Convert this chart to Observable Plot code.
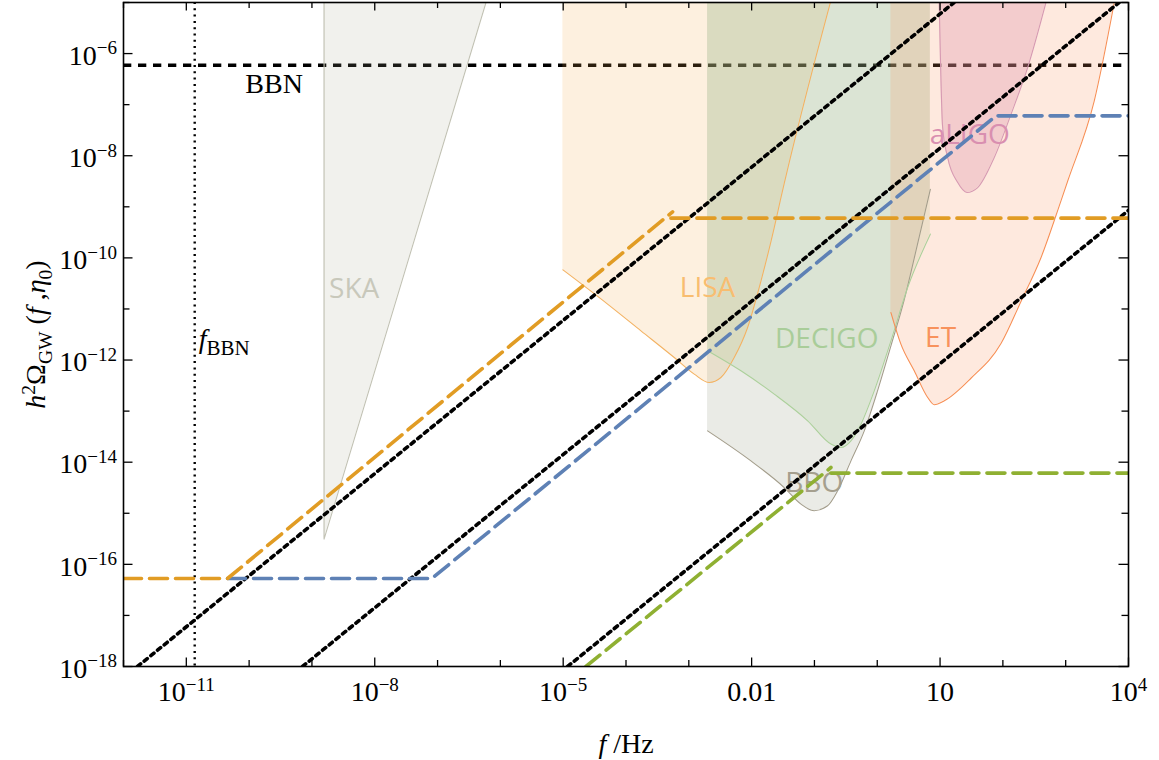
<!DOCTYPE html>
<html>
<head>
<meta charset="utf-8">
<script src="https://cdn.jsdelivr.net/npm/d3@7"></script>
<script src="https://cdn.jsdelivr.net/npm/@observablehq/plot@0.6"></script>
<style>
  body { margin: 0; background: #fff; }
  #chart svg { display: block; }
</style>
</head>
<body>
<div id="chart"></div>
<script>
// ---------------- data ----------------
// axes
const xDomain = [1e-12, 1e4];
const yDomain = [1e-18, 1e-5];
const yTop = 1e-5;
const xDecades = [1e-12,1e-11,1e-10,1e-9,1e-8,1e-7,1e-6,1e-5,1e-4,1e-3,1e-2,1e-1,1,10,100,1e3,1e4];
const xLabeled = [1e-11, 1e-8, 1e-5, 1e-2, 10, 1e4];
const xTickLabels = ["10^−11", "10^−8", "10^−5", "0.01", "10", "10^4"];
const yDecades = [1e-18,1e-17,1e-16,1e-15,1e-14,1e-13,1e-12,1e-11,1e-10,1e-9,1e-8,1e-7,1e-6,1e-5];
const yLabeled = [1e-18, 1e-16, 1e-14, 1e-12, 1e-10, 1e-8, 1e-6];
const yTickLabels = ["10^−18", "10^−16", "10^−14", "10^−12", "10^−10", "10^−8", "10^−6"];

// reference lines
const bbnLevel = 5.9e-7;      // BBN bound (horizontal dashed)
const fBBN = 1.36e-11;        // f_BBN (vertical dotted)

// black dotted diagonal lines (endpoints)
const dotA_F = [1.67e-12, 16.7];   const dotA_V = [1e-18, 1e-5];
const dotB_F = [7.08e-10, 7.08e3]; const dotB_V = [1e-18, 1e-5];
const dotC_F = [1.175e-5, 1e4];    const dotC_V = [1e-18, 8.51e-10];

// coloured dashed spectra
const orangeF = [1e-12, 4.53e-11, 5.52e-4];     const orangeV = [5.28e-17, 5.28e-17, 7.98e-10];
const orangeFlatF = [5.19e-4, 1e4];             const orangeFlatV = [6.0e-10, 6.0e-10];
const blueF = [4.53e-11, 8.11e-8, 77.6, 1e4];   const blueV = [5.28e-17, 5.28e-17, 6.04e-8, 6.04e-8];
const greenF = [2.30e-5, 0.183];                const greenV = [1e-18, 7.87e-15];
const greenFlatF = [0.183, 1e4];                const greenFlatV = [6.11e-15, 6.11e-15];

// detector sensitivity curves (region above each curve is shaded)
const skaF = [1.56e-9, 5.9e-7];
const skaV = [3.12e-16, 1e-5];
const lisaF = [9.89e-6, 5.09e-5, 1.73e-4, 5.86e-4, 1.22e-3, 2.11e-3, 3.24e-3, 5.28e-3, 8.63e-3, 1.41e-2, 2.29e-2, 2.85e-2, 0.179];
const lisaV = [5.83e-11, 1.245e-11, 3.73e-12, 1.12e-12, 5.30e-13, 3.63e-13, 4.55e-13, 1.12e-12, 4.34e-12, 3.56e-11, 3.93e-10, 1.31e-9, 1e-5];
const bboF = [1.99e-3, 9.75e-3, 3.30e-2, 6.10e-2, 0.0993, 0.162, 0.234, 0.381, 0.621, 1.01, 1.65, 2.66, 4.13, 7.0];
const bboV = [4.11e-14, 1.06e-14, 3.19e-15, 1.51e-15, 1.12e-15, 1.40e-15, 2.75e-15, 1.06e-14, 4.11e-14, 2.49e-13, 1.90e-12, 1.44e-11, 1.37e-10, 2.2e-9];
const decigoF = [1.99e-3, 6.76e-3, 2.29e-2, 7.80e-2, 0.183, 0.264, 0.381, 0.550, 0.895, 1.65, 3.05, 7.0];
const decigoV = [1.52e-12, 6.15e-13, 2.15e-13, 6.46e-14, 2.26e-14, 1.94e-14, 2.62e-14, 5.56e-14, 2.49e-13, 2.38e-12, 2.63e-11, 2.92e-10];
const etF = [1.65, 2.38, 3.88, 6.35, 8.09, 11.7, 31.0, 93.3, 194, 405, 841, 1.08e3, 2.85e3, 5.94e3];
const etV = [8.51e-12, 2.05e-12, 6.15e-13, 1.85e-13, 1.33e-13, 1.59e-13, 4.40e-13, 2.10e-12, 1.40e-11, 1.02e-10, 1.31e-9, 3.23e-9, 1.19e-7, 1e-5];
const aligoF = [9.70, 11.0, 13.2, 19.1, 26.8, 39.7, 72.9, 135, 248, 485];
const aligoV = [1e-5, 3.56e-8, 9.23e-9, 2.99e-9, 1.91e-9, 2.38e-9, 9.23e-9, 6.52e-8, 5.33e-7, 1e-5];

// detector labels
const detNames  = ["SKA", "LISA", "DECIGO", "BBO", "ET", "aLIGO"];
const detLabelF = [4.70e-9, 1.99e-3, 0.157, 0.0993, 10.2, 29.7];
const detLabelV = [2.50e-11, 2.59e-11, 2.60e-12, 3.86e-15, 2.66e-12, 2.60e-8];
const detLabelColors = ["#c8c8bb", "#f8bd70", "#a9cd99", "#a59f8e", "#f8925c", "#d98fb0"];

// other text
const bbnLabel = {text: "BBN", f: 2.50e-10, v: 2.58e-7};
const fbbnLabel = {text: "fBBN", f: 1.58e-11, v: 2.6e-12};
const yTitle = "h2ΩGW (f ,η0)";
const xTitle = "f /Hz";

// ---------------- layout ----------------
const W = 1159, H = 760;
const mL = 123, mR = 31, mT = 2, mB = 94;
const plotW = W - mL - mR;
const plotH = H - mT - mB;

const rows = (F, V) => F.map((f, i) => ({f, v: V[i]}));
const xMinor = xDecades.filter(d => !xLabeled.includes(d));
const yMinor = yDecades.filter(d => !yLabeled.includes(d));
const xLabelOf = new Map(xLabeled.map((v, i) => [v, xTickLabels[i]]));
const yLabelOf = new Map(yLabeled.map((v, i) => [v, yTickLabels[i]]));

const regions = [
  {F: skaF, V: skaV, fill: "#a5a58c", op: 0.16, stroke: "#c2c2b4", edge: true},
  {F: lisaF, V: lisaV, fill: "#f6ad50", op: 0.18, stroke: "#f3b262"},
  {F: bboF, V: bboV, fill: "#8e9378", op: 0.19, stroke: "#a39d8b"},
  {F: decigoF, V: decigoV, fill: "#a9cc96", op: 0.22, stroke: "#acd09b"},
  {F: etF, V: etV, fill: "#f8915a", op: 0.2, stroke: "#f78f55"},
  {F: aligoF, V: aligoV, fill: "#d98ca6", op: 0.3, stroke: "#d69ab2"}
];

const regionMarks = [];
for (const r of regions) {
  regionMarks.push(Plot.areaY(rows(r.F, r.V), {
    x: "f", y1: "v", y2: () => yTop, fill: r.fill, fillOpacity: r.op,
    curve: "monotone-x", clip: true
  }));
}
for (const r of regions) {
  const F = r.edge ? [r.F[0], ...r.F] : r.F;
  const V = r.edge ? [yTop, ...r.V] : r.V;
  regionMarks.push(Plot.line(rows(F, V), {
    x: "f", y: "v", stroke: r.stroke, strokeWidth: 1.1,
    curve: r.edge ? "linear" : "monotone-x", clip: true
  }));
}

const dotted = {stroke: "black", strokeWidth: 3.6, strokeDasharray: "4,4.6", clip: true};
const dashed = (c) => ({x: "f", y: "v", stroke: c, strokeWidth: 3.6, strokeDasharray: "18,8", clip: true});

const chart = Plot.plot({
  width: W, height: H,
  marginLeft: mL, marginRight: mR, marginTop: mT, marginBottom: mB,
  style: {background: "white", fontFamily: "'Liberation Serif', 'Times New Roman', serif", fontSize: "28px", overflow: "visible"},
  x: {type: "log", domain: xDomain},
  y: {type: "log", domain: yDomain},
  marks: [
    Plot.ruleY([bbnLevel], {y: d => d, stroke: "black", strokeWidth: 3.6, strokeDasharray: "8.3,6.7", clip: true}),
    ...regionMarks,
    Plot.text(detNames, {
      x: (d, i) => detLabelF[i], y: (d, i) => detLabelV[i], text: d => d,
      fill: (d, i) => detLabelColors[i], fontFamily: "'Open Sans', sans-serif", fontSize: 28,
      lineAnchor: "middle", clip: true
    }),
    Plot.ruleX([fBBN], {x: d => d, stroke: "black", strokeWidth: 2.4, strokeDasharray: "2,4.3"}),
    Plot.line(rows(dotA_F, dotA_V), {x: "f", y: "v", ...dotted}),
    Plot.line(rows(dotB_F, dotB_V), {x: "f", y: "v", ...dotted}),
    Plot.line(rows(dotC_F, dotC_V), {x: "f", y: "v", ...dotted}),
    Plot.line(rows(blueF, blueV), dashed("#5e81b5")),
    Plot.line(rows(orangeF, orangeV), dashed("#e19c24")),
    Plot.line(rows(orangeFlatF, orangeFlatV), dashed("#e19c24")),
    Plot.line(rows(greenF, greenV), dashed("#8fb032")),
    Plot.line(rows(greenFlatF, greenFlatV), dashed("#8fb032")),
    Plot.text([bbnLabel], {x: "f", y: "v", text: "text", fill: "black", fontSize: 28, lineAnchor: "middle"}),
    Plot.text([fbbnLabel], {x: "f", y: "v", text: "text", fill: "black", fontSize: 28, lineAnchor: "middle", textAnchor: "start"}),
    // inward ticks on all four sides
    Plot.tickX(xLabeled, {x: d => d, insetTop: plotH - 8.5, stroke: "black", strokeWidth: 1.3}),
    Plot.tickX(xMinor, {x: d => d, insetTop: plotH - 6, stroke: "black", strokeWidth: 1.3}),
    Plot.tickX(xLabeled, {x: d => d, insetBottom: plotH - 8.5, stroke: "black", strokeWidth: 1.3}),
    Plot.tickX(xMinor, {x: d => d, insetBottom: plotH - 6, stroke: "black", strokeWidth: 1.3}),
    Plot.tickY(yLabeled, {y: d => d, insetRight: plotW - 9.5, stroke: "black", strokeWidth: 1.3}),
    Plot.tickY(yMinor, {y: d => d, insetRight: plotW - 6.5, stroke: "black", strokeWidth: 1.3}),
    Plot.tickY(yLabeled, {y: d => d, insetLeft: plotW - 9.5, stroke: "black", strokeWidth: 1.3}),
    Plot.tickY(yMinor, {y: d => d, insetLeft: plotW - 6.5, stroke: "black", strokeWidth: 1.3}),
    Plot.axisX({ticks: xLabeled, tickSize: 0, tickPadding: 15, tickFormat: d => xLabelOf.get(d), label: null, fontSize: 28}),
    Plot.axisY({ticks: yLabeled, tickSize: 0, tickPadding: 6.5, dy: 2.3, tickFormat: d => yLabelOf.get(d), label: null, fontSize: 28}),
    Plot.text([yTitle], {frameAnchor: "left", dx: -87, rotate: -90, text: d => d, fontSize: 28, lineAnchor: "middle", textAnchor: "middle"}),
    Plot.text([xTitle], {frameAnchor: "bottom", dy: 86, text: d => d, fontSize: 28, lineAnchor: "bottom", textAnchor: "middle"}),
    Plot.frame({stroke: "black", strokeWidth: 1.6})
  ]
});

document.getElementById("chart").appendChild(chart);

// ---------------- rich text (superscripts / subscripts / italics) ----------------
function rich(el, parts, size) {
  const t = d3.select(el);
  t.text(null);
  let shift = 0;
  for (const p of parts) {
    const ts = t.append("tspan").text(p.t);
    const target = p.sup ? -0.37 * size : p.sub ? 0.24 * size : 0;
    if (target !== shift) { ts.attr("dy", target - shift); shift = target; }
    if (p.sup || p.sub) ts.attr("font-size", (p.scale || 0.7) * size);
    if (p.it) ts.attr("font-style", "italic");
  }
}
const svg = d3.select(chart);
svg.selectAll("text").each(function () {
  const s = this.textContent || "";
  const m = s.match(/^10\^(.+)$/);
  if (m) {
    rich(this, [{t: "10"}, {t: m[1], sup: true, scale: 0.68}], 28);
  } else if (s === fbbnLabel.text) {
    rich(this, [{t: "f", it: true}, {t: "BBN", sub: true, scale: 0.75}], 28);
  } else if (s === yTitle) {
    rich(this, [
      {t: "h", it: true}, {t: "2", sup: true, scale: 0.7}, {t: "Ω"}, {t: "GW", sub: true, scale: 0.7},
      {t: " ("}, {t: "f", it: true}, {t: " ,"}, {t: "η", it: true}, {t: "0", sub: true, scale: 0.7}, {t: ")"}
    ], 28);
  } else if (s === xTitle) {
    rich(this, [{t: "f", it: true}, {t: " /Hz"}], 28);
  }
});
</script>
</body>
</html>
